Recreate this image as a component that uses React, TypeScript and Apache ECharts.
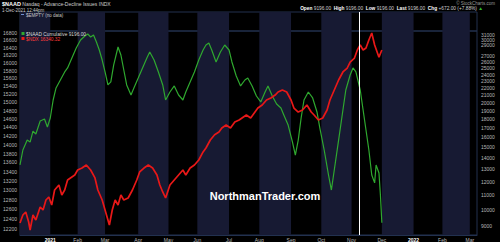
import React, { useEffect, useRef } from 'react';
import * as echarts from 'echarts';

// x positions are trading-day indices (0 = 2-Dec-2020)
const monthStarts = [21, 40, 59, 82, 103, 123, 145, 166, 188, 209, 230, 251, 273, 293, 312];
const monthLabels = ['2021', 'Feb', 'Mar', 'Apr', 'May', 'Jun', 'Jul', 'Aug', 'Sep', 'Oct', 'Nov', 'Dec', '2022', 'Feb', 'Mar'];
const bandFrom = [0, 40, 82, 123, 166, 209, 251, 293];
const bandTo = [21, 59, 103, 145, 188, 230, 273, 312];
const xMax = 317;
const markerIdx = 235.5;

const leftTicks = [12200, 12400, 12600, 12800, 13000, 13200, 13400, 13600, 13800, 14000, 14200, 14400, 14600, 14800, 15000, 15200, 15400, 15600, 15800, 16000, 16200, 16400, 16600, 16800];
// 28000 is hidden behind the $NDX value box in the reference
const rightTicks = [9000, 10000, 11000, 12000, 13000, 14000, 15000, 16000, 17000, 18000, 19000, 20000, 21000, 22000, 23000, 24000, 25000, 26000, 27000, 29000, 30000, 31000];

// $NAAD Cumulative (right axis)
const greenIdx = [0, 2, 5, 7, 9, 11, 14, 17, 19, 21, 23, 25, 28, 31, 33, 36, 39, 42, 45, 47, 49, 51, 53, 55, 57, 59, 61, 63, 65, 68, 70, 72, 74, 77, 79, 82, 85, 88, 90, 93, 96, 99, 101, 104, 107, 110, 113, 115, 118, 121, 124, 127, 129, 131, 133, 136, 139, 142, 145, 147, 150, 153, 156, 158, 161, 164, 167, 170, 172, 175, 178, 181, 183, 186, 189, 191, 193, 195, 197, 200, 203, 206, 208, 211, 214, 216, 218, 221, 224, 226, 229, 231, 233, 236, 238, 240, 242, 244, 246, 247, 249, 250, 251];
const greenVal = [13360, 14720, 15700, 15500, 16640, 16330, 17760, 17990, 17080, 18110, 20350, 22000, 23160, 24400, 25040, 26710, 28490, 30010, 30800, 31200, 30600, 31000, 29630, 28130, 26360, 24400, 22430, 22870, 25530, 28680, 27230, 24710, 22430, 21020, 22000, 23460, 25040, 26710, 27770, 26360, 24400, 22430, 20350, 21430, 22290, 21020, 20350, 21430, 22870, 24400, 26360, 28130, 29050, 29430, 28130, 26030, 27770, 29050, 28130, 26030, 23770, 22290, 23160, 23460, 22290, 20880, 20090, 21430, 22290, 20880, 19830, 19320, 18470, 17300, 15500, 14250, 15700, 18110, 20350, 21430, 20620, 18830, 16970, 14720, 12520, 11360, 12930, 15700, 19070, 21710, 23930, 25040, 24400, 21710, 19070, 16760, 14720, 12520, 11900, 13360, 12680, 11000, 9196];

// $NDX (left axis)
const redIdx = [0, 2, 4, 6, 7, 9, 11, 14, 16, 18, 20, 22, 24, 27, 29, 31, 33, 35, 38, 40, 43, 46, 49, 52, 54, 57, 60, 62, 64, 66, 68, 70, 72, 75, 78, 81, 83, 86, 89, 92, 95, 97, 99, 101, 104, 107, 110, 113, 115, 118, 121, 124, 127, 129, 132, 135, 138, 140, 143, 146, 149, 152, 154, 157, 160, 163, 165, 168, 171, 174, 177, 179, 182, 185, 188, 190, 193, 196, 199, 202, 204, 207, 210, 213, 215, 218, 221, 224, 227, 229, 232, 234, 236, 238, 240, 242, 244, 246, 249, 251];
const redVal = [12320, 12482, 12544, 12340, 12180, 12482, 12380, 12646, 12584, 12791, 12855, 12688, 13002, 13109, 12896, 13002, 13216, 13260, 13324, 13433, 13477, 13543, 13433, 13260, 13002, 12791, 12482, 12280, 12584, 12791, 12688, 12896, 12791, 12833, 13002, 13216, 13390, 13477, 13543, 13477, 13324, 13109, 12960, 12833, 13109, 13216, 13324, 13433, 13324, 13477, 13543, 13655, 13835, 13925, 14108, 14229, 14293, 14387, 14458, 14387, 14528, 14576, 14624, 14695, 14624, 14767, 14863, 14936, 15059, 15108, 15182, 15257, 15307, 15257, 15059, 14863, 14767, 14815, 14936, 14767, 14695, 14576, 14624, 14815, 15059, 15307, 15560, 15764, 15867, 16023, 16128, 16339, 16473, 16339, 16393, 16609, 16799, 16473, 16150, 16340];

const naadLast = 9196.0;
const ndxLast = 16340.32;

const FONT = '"Liberation Sans", Arial, sans-serif';
const BORDER = '#22314f';
const BAND = '#171a33';

export default function App() {
  const ref = useRef<HTMLDivElement>(null);
  useEffect(() => {
    const chart = echarts.init(ref.current!, null, { renderer: 'svg' });
    const bands = bandFrom.map((s, i) => [{ xAxis: s }, { xAxis: bandTo[i] }]);
    const green = greenIdx.map((x, i) => [x, greenVal[i]]);
    const red = redIdx.map((x, i) => [x, redVal[i]]);
    const plain = (v: number) => String(Math.round(v));
    const option: any = {
      animation: false,
      backgroundColor: '#000',
      textStyle: { fontFamily: FONT },
      grid: [
        { left: 20, right: 23, top: 12, height: 19, show: true, backgroundColor: '#000', borderColor: BORDER, borderWidth: 1 },
        { left: 20, right: 23, top: 31, bottom: 7, show: true, backgroundColor: 'transparent', borderColor: BORDER, borderWidth: 1 },
      ],
      xAxis: [
        { gridIndex: 0, type: 'value', min: 0, max: xMax, show: false },
        {
          gridIndex: 1, type: 'value', min: 0, max: xMax,
          axisLine: { show: true, onZero: false, lineStyle: { color: BORDER } },
          axisTick: { show: false }, splitLine: { show: false },
          axisLabel: {
            customValues: monthStarts,
            fontSize: 5, color: '#b8b8b8', margin: 2, fontFamily: FONT,
            formatter: (v: number) => {
              const i = monthStarts.indexOf(v);
              const t = i >= 0 ? monthLabels[i] : '';
              return /^\d+$/.test(t) ? '{b|' + t + '}' : t;
            },
            rich: { b: { fontWeight: 'bold', color: '#ffffff', fontSize: 5, fontFamily: FONT } },
          },
        },
      ],
      yAxis: [
        { gridIndex: 0, type: 'value', min: 0, max: 1, show: false },
        {
          gridIndex: 1, type: 'log', position: 'left', min: 12081, max: 16855,
          axisLine: { show: false }, axisTick: { show: false }, splitLine: { show: false },
          axisLabel: { customValues: leftTicks, formatter: plain, fontSize: 5, color: '#b8b8b8', margin: 3, fontFamily: FONT },
        },
        {
          gridIndex: 1, type: 'log', position: 'right', min: 8490, max: 31810,
          axisLine: { show: false }, axisTick: { show: false }, splitLine: { show: false },
          axisLabel: { customValues: rightTicks, formatter: plain, fontSize: 5, color: '#b8b8b8', margin: 4, fontFamily: FONT },
        },
      ],
      series: [
        {
          type: 'line', xAxisIndex: 0, yAxisIndex: 0, data: [[0, 0.5]], symbol: 'none',
          lineStyle: { opacity: 0 }, silent: true,
          markArea: { silent: true, itemStyle: { color: BAND }, data: bands },
          markLine: { silent: true, symbol: 'none', label: { show: false }, lineStyle: { color: '#ffffff', width: 1, type: 'solid' }, data: [{ xAxis: markerIdx }] },
        },
        {
          name: '$NAAD Cumulative', type: 'line', xAxisIndex: 1, yAxisIndex: 2, data: green, symbol: 'none',
          lineStyle: { color: '#2fa82f', width: 1.2 }, z: 3,
          markArea: { silent: true, itemStyle: { color: BAND }, data: bands },
          markLine: {
            silent: true, symbol: 'none', animation: false,
            data: [
              { xAxis: markerIdx, lineStyle: { color: '#ffffff', width: 1, type: 'solid', opacity: 1 }, label: { show: false } },
              {
                yAxis: naadLast, lineStyle: { opacity: 0 },
                label: {
                  show: true, position: 'end', distance: 2, offset: [0, -2], formatter: '9196.00', fontSize: 4.6, fontWeight: 'bold', lineHeight: 5,
                  color: '#ffffff', backgroundColor: '#0a2a0a', borderColor: '#2fa82f', borderWidth: 1, padding: [0, 1, 0, 1], fontFamily: FONT,
                },
              },
            ],
          },
        },
        {
          name: '$NDX', type: 'line', xAxisIndex: 1, yAxisIndex: 1, data: red, symbol: 'none',
          lineStyle: { color: '#e81818', width: 1.7 }, z: 4,
          markLine: {
            silent: true, symbol: 'none',
            data: [
              {
                yAxis: ndxLast, lineStyle: { opacity: 0 },
                label: {
                  show: true, position: 'end', distance: 2, formatter: '16340.32', fontSize: 5, fontWeight: 'bold',
                  color: '#ffffff', backgroundColor: '#200000', borderColor: '#e81818', borderWidth: 1, padding: [1, 1, 0, 1], fontFamily: FONT,
                },
              },
            ],
          },
        },
      ],
      graphic: [
        {
          type: 'text', x: 2, y: 1, z: 10,
          style: { text: '{b|$NAAD} Nasdaq - Advance-Decline Issues INDX', fill: '#d0d0d0', fontSize: 5, fontFamily: FONT, rich: { b: { fontWeight: 'bold', fill: '#ffffff', fontSize: 5.5, fontFamily: FONT } } },
        },
        { type: 'text', x: 2, y: 7.5, z: 10, style: { text: '1-Dec-2021 12:44pm', fill: '#c8c8c8', fontSize: 4.5, fontFamily: FONT } },
        {
          type: 'text', x: 483, y: 6, z: 10,
          style: {
            text: '{b|Open} 9196.00  {b|High} 9196.00  {b|Low} 9196.00  {b|Last} 9196.00  {b|Chg} +672.00 (+7.88%) {u|▲}',
            align: 'right', fill: '#d0d0d0', fontSize: 4.8, fontFamily: FONT,
            rich: { b: { fontWeight: 'bold', fill: '#ffffff', fontSize: 4.8, fontFamily: FONT }, u: { fill: '#2fc02f', fontSize: 4.8 } },
          },
        },
        { type: 'text', x: 495, y: 0.5, z: 10, style: { text: '© StockCharts.com', align: 'right', fill: '#9a9a9a', fontSize: 4.5, fontFamily: FONT } },
        { type: 'rect', x: 21, y: 14, z: 10, shape: { width: 3, height: 1 }, style: { fill: '#6f8fd0' } },
        { type: 'text', x: 26, y: 12.5, z: 10, style: { text: '$EMPTY (no data)', fill: '#c8c8c8', fontSize: 4.5, fontFamily: FONT } },
        { type: 'rect', x: 21.5, y: 32, z: 10, shape: { width: 3, height: 3 }, style: { fill: '#2fa82f' } },
        { type: 'text', x: 26, y: 31.5, z: 10, style: { text: '$NAAD Cumulative 9196.00', fill: '#d8d8d8', fontSize: 4.8, fontFamily: FONT } },
        { type: 'rect', x: 21.5, y: 37, z: 10, shape: { width: 3, height: 3 }, style: { fill: '#e81818' } },
        { type: 'text', x: 26, y: 36.5, z: 10, style: { text: '$NDX 16340.32', fill: '#ff3a3a', fontSize: 4.8, fontFamily: FONT } },
        {
          type: 'text', x: 265, y: 196, z: 10,
          style: { text: 'NorthmanTrader.com', align: 'center', verticalAlign: 'middle', fill: '#ffffff', fontSize: 11, fontWeight: 'bold', fontFamily: FONT },
        },
      ],
    };
    chart.setOption(option);
    return () => chart.dispose();
  }, []);
  return <div ref={ref} style={{ position: 'absolute', left: 0, top: 0, width: 500, height: 242, background: '#000' }} />;
}
